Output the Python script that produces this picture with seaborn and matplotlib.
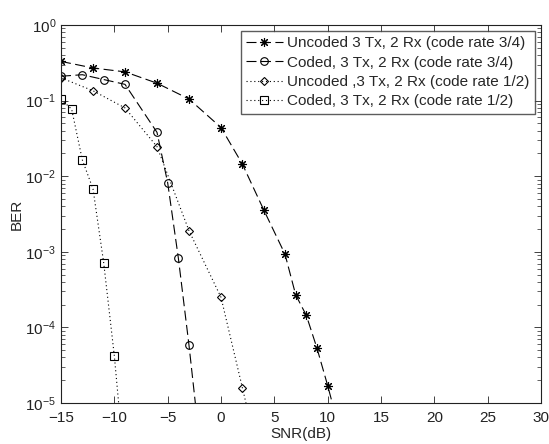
import numpy as np
import pandas as pd
import matplotlib
matplotlib.use("Agg")
import matplotlib.pyplot as plt
import seaborn as sns

# data (SNR in dB, BER)
snr_unc34 = [-15, -12, -9, -6, -3, 0, 2, 4, 6, 7, 8, 9, 10, 11]
ber_unc34 = [0.33, 0.27, 0.24, 0.17, 0.105, 0.044, 0.0145, 0.0036, 9.3e-4, 2.7e-4,
             1.44e-4, 5.3e-5, 1.7e-5, 5e-6]

snr_cod34 = [-15, -13, -11, -9, -6, -5, -4, -3, -2]
ber_cod34 = [0.21, 0.22, 0.19, 0.164, 0.038, 0.0082, 8.3e-4, 5.8e-5, 3e-6]

snr_unc12 = [-15, -12, -9, -6, -3, 0, 2, 3]
ber_unc12 = [0.2, 0.135, 0.08, 0.0246, 0.0019, 2.5e-4, 1.6e-5, 4e-6]

snr_cod12 = [-15, -14, -13, -12, -11, -10, -9]
ber_cod12 = [0.104, 0.077, 0.0164, 0.0068, 7.2e-4, 4.2e-5, 1.2e-6]

labels = ['Uncoded 3 Tx, 2 Rx (code rate 3/4)',
          'Coded, 3 Tx, 2 Rx (code rate 3/4)',
          'Uncoded ,3 Tx, 2 Rx (code rate 1/2)',
          'Coded, 3 Tx, 2 Rx (code rate 1/2)']

sns.set_style("ticks")
plt.rcParams['font.family'] = ['Liberation Sans', 'DejaVu Sans']
plt.rcParams['mathtext.fontset'] = 'custom'
plt.rcParams['mathtext.rm'] = 'Liberation Sans'

fig = plt.figure(figsize=(5.49, 4.44), dpi=100)
ax = fig.add_axes([61 / 549, 1 - 403 / 444, 480 / 549, 378 / 444])

dash = (0, (9, 4))
dot = (0, (1, 2.5))
series = [
    (snr_unc34, ber_unc34, (8, 2, 0), dash, 6.5),
    (snr_cod34, ber_cod34, 'o', dash, 5.5),
    (snr_unc12, ber_unc12, 'D', dot, 4.5),
    (snr_cod12, ber_cod12, 's', dot, 5.5),
]

for (x, y, mk, ls, ms), lab in zip(series, labels):
    df = pd.DataFrame({'snr': x, 'ber': y})
    sns.lineplot(data=df, x='snr', y='ber', ax=ax, color='k', marker=mk,
                 linestyle=ls, linewidth=0.8, markersize=ms,
                 markerfacecolor='none', markeredgecolor='k', markeredgewidth=0.8,
                 label=lab)

ax.set_yscale('log')
ax.set_xlim(-15, 30)
ax.set_ylim(1e-5, 1)
ax.set_xticks(np.arange(-15, 31, 5))
ax.set_xlabel('SNR(dB)', fontsize=11, labelpad=1)
ax.set_ylabel('BER', fontsize=11, labelpad=1)

ax.tick_params(which='both', direction='in', top=True, right=True,
               labelsize=11, colors='#222222')
ax.tick_params(axis='x', pad=6)
ax.tick_params(which='major', length=5, width=0.6)
ax.tick_params(which='minor', length=3, width=0.5)
for sp in ax.spines.values():
    sp.set_color('#222222')
    sp.set_linewidth(0.8)

leg = ax.legend(loc='upper right', fontsize=11, frameon=True, fancybox=False,
                borderaxespad=0.4, handlelength=2.4, handletextpad=0.3,
                labelspacing=0.35, borderpad=0.35)
leg.get_frame().set_edgecolor('#333333')
leg.get_frame().set_linewidth(1.0)

fig.savefig('out.png', dpi=100)
